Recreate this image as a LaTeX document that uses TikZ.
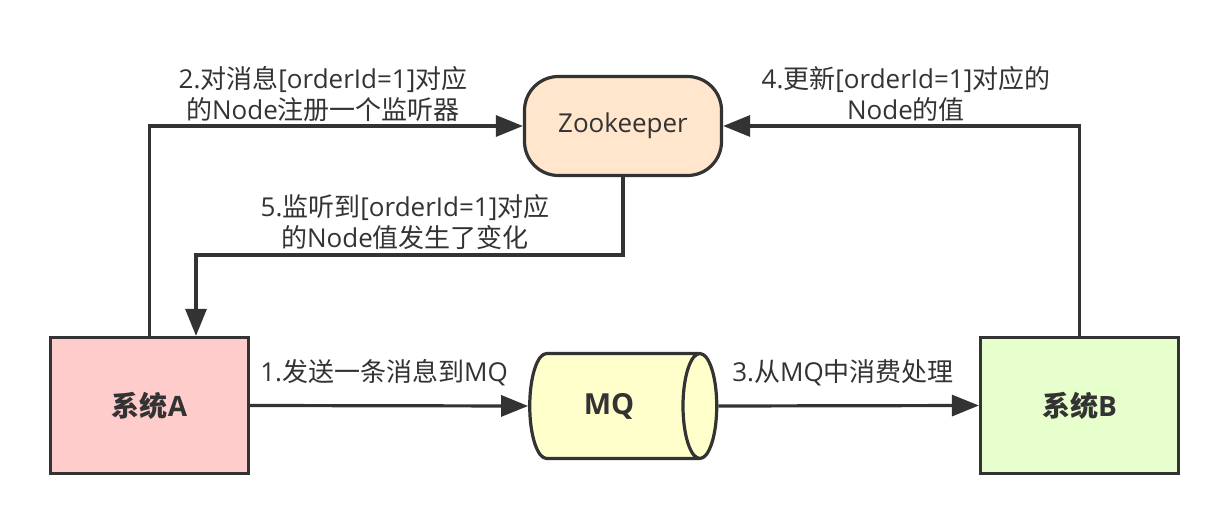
\documentclass[tikz,border=0pt]{standalone}
\usepackage{fontspec}
\setmainfont{Open Sans}
\newfontfamily\cjk{Noto Sans CJK SC}
\usetikzlibrary{arrows.meta,shapes.geometric}
\definecolor{ink}{HTML}{333333}
\definecolor{pinkA}{HTML}{FFCCCC}
\definecolor{greenB}{HTML}{E6FFCC}
\definecolor{yellowMQ}{HTML}{FFFFCC}
\definecolor{peachZK}{HTML}{FFE6CC}
\tikzset{
  sysbox/.style={draw=ink, line width=3.2pt, minimum width=198pt, minimum height=136pt, inner sep=0pt,
    text=ink, font=\fontsize{28}{34}\selectfont\bfseries},
  zkbox/.style={draw=ink, line width=3.2pt, fill=peachZK, rounded corners=34pt, minimum width=197pt,
    minimum height=99pt, inner sep=0pt, text=ink, font=\fontsize{26}{31}\selectfont},
  mqcyl/.style={cylinder, shape border rotate=0, draw=ink, line width=3.2pt, fill=yellowMQ,
    aspect=1.3, minimum width=105pt, minimum height=187pt, inner sep=0pt,
    text=ink, font=\fontsize{29}{34}\selectfont\bfseries},
  lbl/.style={text=ink, font=\fontsize{26}{31}\selectfont, align=center, inner sep=0pt},
  conn/.style={draw=ink, line width=3.2pt, -{Triangle[length=27pt,width=21pt]}}
}
\begin{document}
\begin{tikzpicture}[x=1pt,y=-1pt]
\useasboundingbox (0,0) rectangle (1230,526);
\node[sysbox, fill=pinkA] (A) at (149.5,405.5) {{\cjk 系统}A};
\node[sysbox, fill=greenB] (B) at (1079.5,405.5) {{\cjk 系统}B};
\node[zkbox] (ZK) at (623,126) {Zookeeper};
\node[mqcyl] (MQ) at (614,406) {MQ\hspace*{10pt}};
\coordinate (bend) at (196,255);

\draw[conn] (A.east) -- (MQ.west);
\draw[conn] (MQ.east) -- (B.west);
\draw[conn] (A.north) |- (ZK.west);
\draw[conn] (B.north) |- (ZK.east);
\draw[conn] (ZK.south) |- (bend) -- (bend |- A.north);

\node[lbl] (l1) at (384,373) {1.{\cjk 发送一条消息到}MQ};
\node[lbl] (l3) at (843,373) {3.{\cjk 从}MQ{\cjk 中消费处理}};
\node[lbl] (l2) at (323,94) {2.{\cjk 对消息}[orderId=1]{\cjk 对应}\\{\cjk 的}Node{\cjk 注册一个监听器}};
\node[lbl] (l4) at (906,94) {4.{\cjk 更新}[orderId=1]{\cjk 对应的}\\Node{\cjk 的值}};
\node[lbl] (l5) at (405,222) {5.{\cjk 监听到}[orderId=1]{\cjk 对应}\\{\cjk 的}Node{\cjk 值发生了变化}};
\end{tikzpicture}
\end{document}
